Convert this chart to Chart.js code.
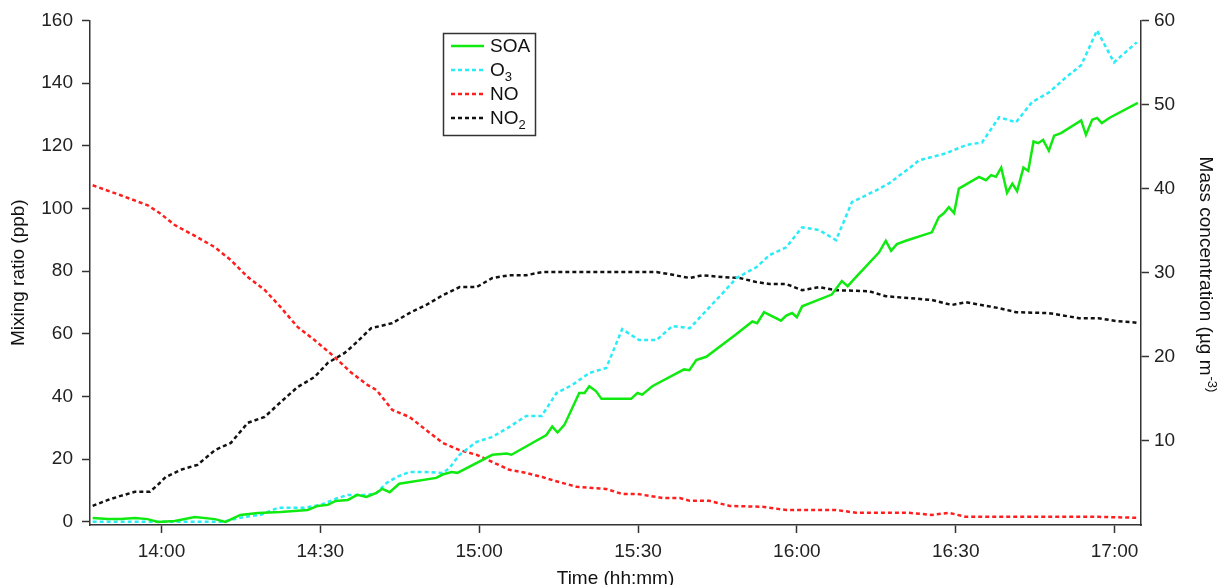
<!DOCTYPE html>
<html>
<head>
<meta charset="utf-8">
<script src="https://cdn.jsdelivr.net/npm/chart.js@4.4.1/dist/chart.umd.min.js"></script>
<style>
  html, body { margin: 0; padding: 0; background: #fff; }
  #wrap { width: 1217px; height: 585px; }
</style>
</head>
<body>
<div id="wrap"><canvas id="c" width="1217" height="585"></canvas></div>
<script>
// time in minutes after midnight
const timeTicks = [840, 870, 900, 930, 960, 990, 1020];
const ppbTicks = [0, 20, 40, 60, 80, 100, 120, 140, 160];
const massTicks = [10, 20, 30, 40, 50, 60];

// SOA (right axis, ug m-3)
const soaTime = [827, 829.9, 832.3, 835, 837.4, 839.3, 842.5, 846.3, 850.1, 852.1, 854.9, 858.2, 862.5, 867.6, 869.5, 871.4, 872.9, 875.2, 877, 878.7, 880.6, 881.7, 883.1, 884.9, 891.9, 893.1, 894.8, 895.9, 902.5, 905.2, 906.1, 912.7, 913.8, 914.8, 916.1, 918.9, 919.9, 920.8, 922.1, 923.1, 928.7, 929.9, 930.8, 932.7, 938.7, 939.7, 941, 942.9, 948.6, 951.6, 952.5, 953.8, 957, 958, 959.1, 960, 961, 966.6, 968.5, 969.6, 971.2, 975.5, 976.8, 977.8, 978.9, 980.6, 985.5, 986.8, 987.8, 988.7, 989.7, 990.6, 994.4, 995.7, 996.7, 997.6, 998.6, 999.7, 1000.7, 1001.6, 1002.8, 1003.7, 1004.7, 1005.6, 1006.5, 1007.6, 1008.6, 1009.9, 1013.7, 1014.6, 1015.8, 1016.7, 1017.6, 1019, 1024.4];
const soaMass = [0.84, 0.7, 0.7, 0.84, 0.7, 0.36, 0.48, 0.95, 0.7, 0.36, 1.19, 1.43, 1.55, 1.79, 2.27, 2.39, 2.86, 2.98, 3.58, 3.34, 3.82, 4.3, 3.9, 4.9, 5.6, 6.0, 6.3, 6.2, 8.35, 8.5, 8.35, 10.7, 11.7, 11.0, 11.9, 15.7, 15.7, 16.5, 15.9, 15.0, 15.0, 15.7, 15.5, 16.5, 18.5, 18.4, 19.6, 20.0, 22.7, 24.2, 24.0, 25.3, 24.3, 24.9, 25.2, 24.7, 26.0, 27.4, 29.0, 28.4, 29.5, 32.4, 33.8, 32.6, 33.4, 33.8, 34.8, 36.6, 37.1, 37.8, 37.1, 40.0, 41.4, 41.0, 41.6, 41.4, 42.5, 39.5, 40.6, 39.7, 42.5, 42.1, 45.6, 45.4, 45.8, 44.5, 46.3, 46.6, 48.1, 46.4, 48.2, 48.4, 47.8, 48.4, 50.2];

// O3 (left axis, ppb)
const o3Time = [827, 836, 845, 851.5, 855.7, 858.7, 862, 867, 870, 873.3, 875.2, 878.9, 880.6, 882.5, 884.4, 886.8, 890, 893.1, 894.4, 896.3, 899.5, 902.5, 905.7, 908.9, 911.8, 914.6, 917.6, 920.8, 924, 927, 930.2, 933.5, 936.5, 939.8, 943, 946, 948.6, 952.4, 954.8, 958, 961, 964.2, 967.4, 970.4, 975, 977.4, 981.2, 983.1, 988.2, 991.9, 995, 998.2, 1001.4, 1004.4, 1007.6, 1010.8, 1013.7, 1016.7, 1019.9, 1024.2];
const o3Ppb = [0, 0, 0, 0, 1.6, 2.2, 4.5, 4.5, 5.4, 7.6, 8.6, 8.6, 9.2, 12.4, 14.3, 15.9, 15.9, 15.6, 17.2, 21.4, 25.5, 27.1, 30.3, 33.8, 33.8, 41.1, 43.7, 47.5, 49.1, 61.5, 58.0, 58.0, 62.5, 61.8, 67.6, 73.0, 77.8, 81.3, 85.1, 87.6, 94.0, 93.1, 89.9, 102, 105.8, 108, 112.8, 115.4, 117.6, 120.2, 121.1, 129.1, 127.5, 133.9, 137, 141.8, 145.7, 156.8, 146.6, 153];

// NO (left axis, ppb)
const noTime = [827, 832.3, 837.4, 839.7, 842.5, 846.8, 850.1, 853.1, 856.3, 859.5, 862.5, 865.7, 868.9, 872.7, 875.7, 878.9, 880.6, 883.6, 886.8, 890, 893.1, 896.3, 899.5, 902.5, 905.7, 908.9, 911.9, 915.1, 918.4, 921.4, 924, 927, 929.9, 934.7, 937.9, 939.8, 943.5, 947.3, 953.5, 958, 963.7, 967.4, 971.2, 981.2, 985.5, 988.7, 991.9, 998.2, 1007.6, 1017, 1024.6];
const noPpb = [107.4, 104.2, 101, 98.5, 94.7, 90.8, 87.6, 83.5, 78.1, 74, 68.5, 62.2, 58, 52.6, 47.8, 43.7, 42.1, 35.7, 33.5, 29.3, 25.2, 22.9, 21.4, 19.1, 16.6, 15.6, 14.3, 12.7, 11.2, 10.8, 10.5, 8.9, 8.9, 7.6, 7.6, 6.7, 6.7, 5.1, 4.8, 3.8, 3.8, 3.8, 2.9, 2.9, 2.2, 2.9, 1.6, 1.6, 1.6, 1.6, 1.3];

// NO2 (left axis, ppb)
const no2Time = [827, 829.9, 832.3, 835, 837.8, 839.3, 840.8, 843.6, 846.8, 850.1, 853.1, 856.3, 859.5, 862.5, 865.7, 868.9, 871.4, 874.6, 876.3, 879.6, 883.6, 886.8, 890, 893.1, 896.3, 899.5, 902.5, 905.7, 908.9, 911.9, 930.2, 933.5, 936, 939.8, 942.2, 946, 949.2, 952.4, 954.8, 958, 961, 964.2, 967.4, 973.6, 976.8, 981.2, 985.5, 989.3, 991.9, 998.2, 1001.4, 1007.6, 1013.3, 1017, 1020.2, 1023.3, 1024.6];
const no2Ppb = [5.1, 7.0, 8.3, 9.6, 9.6, 11.8, 14.3, 16.6, 18.2, 22.9, 25.2, 31.6, 33.5, 38.2, 43.0, 46.2, 50.7, 53.9, 56.4, 61.8, 63.4, 66.6, 69.2, 72.3, 74.9, 74.9, 77.8, 78.7, 78.7, 79.7, 79.7, 79.7, 79.0, 77.8, 78.7, 78.1, 77.8, 76.5, 75.9, 75.9, 73.9, 74.9, 73.9, 73.6, 72.0, 71.4, 70.8, 69.2, 70.1, 68.2, 66.9, 66.6, 65.0, 65.0, 64.1, 63.7, 63.4];

function pts(xs, ys){ return xs.map((x,i)=>({x:x, y:ys[i]})); }
function hhmm(m){
  const h = Math.floor(m/60), mm = Math.round(m%60);
  return h + ':' + (mm<10?'0':'') + mm;
}

const FONT = '"Liberation Sans", Arial, sans-serif';
const AXIS = '#333';
const FS = 19;

// legend entries: [main text, subscript]
const legendText = [['SOA',''], ['O','3'], ['NO',''], ['NO','2']];

const boxLegend = {
  id: 'boxLegend',
  afterDraw(chart){
    const ctx = chart.ctx;
    ctx.save();
    ctx.strokeStyle = AXIS; ctx.lineWidth = 1.5;
    ctx.strokeRect(443.5, 33.5, 92, 102);
    chart.data.datasets.forEach((ds, i) => {
      const y = 46 + i*24;
      ctx.strokeStyle = ds.borderColor;
      ctx.lineWidth = ds.borderWidth;
      ctx.setLineDash(ds.borderDash || []);
      ctx.beginPath(); ctx.moveTo(451, y); ctx.lineTo(484, y); ctx.stroke();
      ctx.setLineDash([]);
      ctx.fillStyle = '#111';
      ctx.textBaseline = 'middle';
      ctx.font = FS + 'px ' + FONT;
      const t = legendText[i];
      ctx.fillText(t[0], 490, y + 1);
      if (t[1]) {
        const w = ctx.measureText(t[0]).width;
        ctx.font = '13px ' + FONT;
        ctx.fillText(t[1], 490 + w, y + 7);
      }
    });
    // right axis title with superscript
    ctx.translate(1205, 274);
    ctx.rotate(Math.PI/2);
    ctx.fillStyle = '#111';
    ctx.textBaseline = 'middle';
    const main = 'Mass concentration (µg m';
    ctx.font = '13px ' + FONT;
    const supW = ctx.measureText('-3)').width;
    ctx.font = FS + 'px ' + FONT;
    const mw = ctx.measureText(main).width;
    const x0 = -(mw + supW)/2;
    ctx.fillText(main, x0, 0);
    ctx.font = '13px ' + FONT;
    ctx.fillText('-3)', x0 + mw + 1, -7);
    ctx.restore();
  }
};

new Chart(document.getElementById('c'), {
  type: 'line',
  data: {
    datasets: [
      { label: 'SOA', data: pts(soaTime, soaMass), yAxisID: 'y1', borderColor: '#10ea10', borderWidth: 2.5, pointRadius: 0, tension: 0 },
      { label: 'O3', data: pts(o3Time, o3Ppb), yAxisID: 'y', borderColor: '#28ecf6', borderWidth: 2.5, borderDash: [4,3], pointRadius: 0, tension: 0 },
      { label: 'NO', data: pts(noTime, noPpb), yAxisID: 'y', borderColor: '#ff1e1e', borderWidth: 2.5, borderDash: [4,3], pointRadius: 0, tension: 0 },
      { label: 'NO2', data: pts(no2Time, no2Ppb), yAxisID: 'y', borderColor: '#111', borderWidth: 2.5, borderDash: [4,3], pointRadius: 0, tension: 0 }
    ]
  },
  options: {
    responsive: false,
    animation: false,
    layout: { padding: { top: 20, left: 0, right: 0, bottom: 0 } },
    plugins: { legend: { display: false }, tooltip: { enabled: false } },
    scales: {
      x: {
        type: 'linear', min: 826.5, max: 1025,
        afterBuildTicks: s => { s.ticks = timeTicks.map(v => ({value: v})); },
        afterFit: s => { s.height = 60; },
        ticks: { callback: v => hhmm(v), color: '#222', font: { size: FS, family: FONT }, padding: 7, maxRotation: 0 },
        grid: { drawOnChartArea: false, drawTicks: true, tickLength: 8, tickColor: AXIS, tickWidth: 1.5 },
        border: { color: AXIS, width: 1.5 },
        title: { display: true, text: 'Time (hh:mm)', color: '#111', font: { size: FS, family: FONT, lineHeight: 1 }, padding: { top: 0, bottom: -3 } }
      },
      y: {
        position: 'left', min: -1, max: 160,
        afterBuildTicks: s => { s.ticks = ppbTicks.map(v => ({value: v})); },
        afterFit: s => { s.width = 90; },
        ticks: { color: '#222', font: { size: FS, family: FONT }, padding: 9 },
        grid: { drawOnChartArea: false, drawTicks: true, tickLength: 8, tickColor: AXIS, tickWidth: 1.5 },
        border: { color: AXIS, width: 1.5 },
        title: { display: true, text: 'Mixing ratio (ppb)', color: '#111', font: { size: FS, family: FONT, lineHeight: 1 }, padding: { top: 9, bottom: 0 } }
      },
      y1: {
        position: 'right', min: 0, max: 60,
        afterBuildTicks: s => { s.ticks = massTicks.map(v => ({value: v})); },
        afterFit: s => { s.width = 76; },
        ticks: { color: '#222', font: { size: FS, family: FONT }, padding: 5 },
        grid: { drawOnChartArea: false, drawTicks: true, tickLength: 8, tickColor: AXIS, tickWidth: 1.5 },
        border: { color: AXIS, width: 1.5 }
      }
    }
  },
  plugins: [boxLegend]
});
</script>
</body>
</html>
